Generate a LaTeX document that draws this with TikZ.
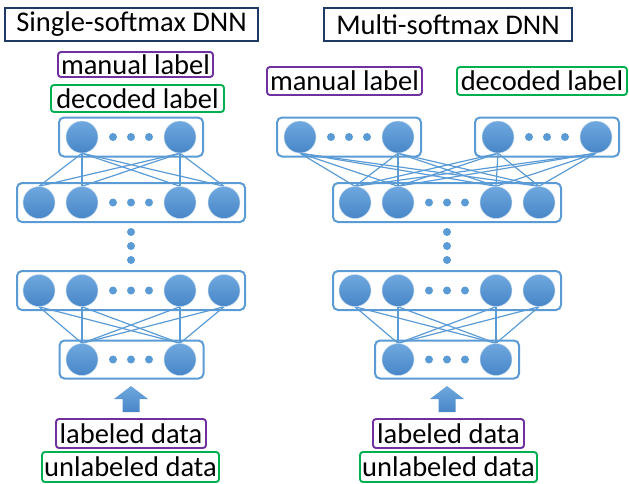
\documentclass[tikz,border=0pt]{standalone}
\usepackage{fontspec}
\setmainfont{Carlito}
\usepackage{tikz}
\usetikzlibrary{backgrounds}
\definecolor{nnblue}{HTML}{5B9BD5}
\definecolor{nnlight}{HTML}{6FA8DE}
\definecolor{nndark}{HTML}{4886C8}
\definecolor{manpurple}{HTML}{7030A0}
\definecolor{decgreen}{HTML}{00B050}
\definecolor{titlenavy}{HTML}{1F3864}
\tikzset{
	unit/.style={circle,inner sep=0pt,minimum size=32pt,top color=nnlight,bottom color=nndark,draw=white!65!nnblue,line width=0.5pt},
	pip/.style={circle,inner sep=0pt,minimum size=8pt,fill=nnblue},
	layer/.style 2 args={draw=nnblue,line width=2pt,rounded corners=5pt,minimum width=#1,minimum height=#2,inner sep=0pt},
	tag/.style 2 args={draw=#1,line width=1.9pt,rounded corners=3pt,inner sep=0pt,minimum width=#2,font=\fontsize{28.5}{30}\selectfont},
	link/.style={draw=nnblue,line width=1.2pt},
	bluearrow/.style={top color=nnlight,bottom color=nndark}
}

\begin{document}
\begin{tikzpicture}[x=1pt,y=-1pt]
	\useasboundingbox (0,0) rectangle (629,483);

	% single-softmax
	\node [tag={titlenavy}{253pt},line width=2.6pt,rounded corners=0pt,minimum height=33pt] (Stitle) at (131.5,24.5) {Single-softmax DNN};
	\node [tag={manpurple}{155pt},minimum height=25pt] (Sman) at (135.5,64.5) {manual label};
	\node [tag={decgreen}{173pt},minimum height=27pt] (Sdec) at (137.5,98.5) {decoded label};

	\node [layer={144pt}{39pt}] (Soutbox) at (131,137) {};
	\node [unit] (So1) at (82,137) {};
	\node [unit] (So2) at (180,137) {};
	\foreach \x in {113,131,149} \node [pip] (Sop\x) at (\x,137) {};

	\node [layer={228pt}{39pt}] (Shabox) at (131,202.5) {};
	\node [unit] (Sa1) at (39,202.5) {};
	\node [unit] (Sa2) at (82,202.5) {};
	\node [unit] (Sa3) at (180,202.5) {};
	\node [unit] (Sa4) at (224,202.5) {};
	\foreach \x in {113,131,149} \node [pip] (Sap\x) at (\x,202.5) {};

	\foreach \y in {232,246,260} \node [pip] (Svp\y) at (131,\y) {};

	\node [layer={228pt}{39pt}] (Shbbox) at (131,290.5) {};
	\node [unit] (Sb1) at (39,290.5) {};
	\node [unit] (Sb2) at (82,290.5) {};
	\node [unit] (Sb3) at (180,290.5) {};
	\node [unit] (Sb4) at (224,290.5) {};
	\foreach \x in {113,131,149} \node [pip] (Sbp\x) at (\x,290.5) {};

	\node [layer={144pt}{38pt}] (Sinbox) at (131.5,359.5) {};
	\node [unit] (Si1) at (82,359.5) {};
	\node [unit] (Si2) at (180,359.5) {};
	\foreach \x in {113,131,149} \node [pip] (Sip\x) at (\x,359.5) {};

	\shade [bluearrow,shift={(131,386)}] (0,0) -- (17,13) -- (8.5,13) -- (8.5,26) -- (-8.5,26) -- (-8.5,13) -- (-17,13) -- cycle;

	\node [tag={manpurple}{150pt},minimum height=29pt] (Slab) at (131,433.5) {labeled data};
	\node [tag={decgreen}{177pt},minimum height=30pt] (Sunl) at (130.5,467) {unlabeled data};

	% multi-softmax
	\node [tag={titlenavy}{248pt},line width=2.6pt,rounded corners=0pt,minimum height=33pt] (Mtitle) at (448,24.5) {Multi-softmax DNN};
	\node [tag={manpurple}{155pt},minimum height=28pt] (Mman) at (344.5,81) {manual label};
	\node [tag={decgreen}{170pt},minimum height=28pt] (Mdec) at (542,81) {decoded label};

	\node [layer={144pt}{39pt}] (Moutbox) at (349,137) {};
	\node [unit] (Mo1) at (300,137) {};
	\node [unit] (Mo2) at (398,137) {};
	\foreach \x in {331,349,367} \node [pip] (Mop\x) at (\x,137) {};

	\node [layer={144pt}{39pt}] (Mdbox) at (547,137) {};
	\node [unit] (Md1) at (498,137) {};
	\node [unit] (Md2) at (596,137) {};
	\foreach \x in {529,547,565} \node [pip] (Mdp\x) at (\x,137) {};

	\node [layer={228pt}{39pt}] (Mhabox) at (447,202.5) {};
	\node [unit] (Ma1) at (355,202.5) {};
	\node [unit] (Ma2) at (398,202.5) {};
	\node [unit] (Ma3) at (496,202.5) {};
	\node [unit] (Ma4) at (539,202.5) {};
	\foreach \x in {429,447,465} \node [pip] (Map\x) at (\x,202.5) {};

	\foreach \y in {232,246,260} \node [pip] (Mvp\y) at (447,\y) {};

	\node [layer={228pt}{39pt}] (Mhbbox) at (447,290.5) {};
	\node [unit] (Mb1) at (355,290.5) {};
	\node [unit] (Mb2) at (398,290.5) {};
	\node [unit] (Mb3) at (496,290.5) {};
	\node [unit] (Mb4) at (539,290.5) {};
	\foreach \x in {429,447,465} \node [pip] (Mbp\x) at (\x,290.5) {};

	\node [layer={144pt}{38pt}] (Minbox) at (447,359.5) {};
	\node [unit] (Mi1) at (398,359.5) {};
	\node [unit] (Mi2) at (496,359.5) {};
	\foreach \x in {429,447,465} \node [pip] (Mip\x) at (\x,359.5) {};

	\shade [bluearrow,shift={(447,386)}] (0,0) -- (17,13) -- (8.5,13) -- (8.5,26) -- (-8.5,26) -- (-8.5,13) -- (-17,13) -- cycle;

	\node [tag={manpurple}{151pt},minimum height=29pt] (Mlab) at (448.5,433.5) {labeled data};
	\node [tag={decgreen}{177pt},minimum height=30pt] (Munl) at (448.5,467) {unlabeled data};

	% weights
	\begin{pgfonlayer}{background}
		\foreach \a in {So1,So2} \foreach \b in {Sa1,Sa2,Sa3,Sa4} \draw [link] (\a.south) -- (\b.north);
		\foreach \a in {Sb1,Sb2,Sb3,Sb4} \foreach \b in {Si1,Si2} \draw [link] (\a.south) -- (\b.north);
		\foreach \a in {Mo1,Mo2,Md1,Md2} \foreach \b in {Ma1,Ma2,Ma3,Ma4} \draw [link] (\a.south) -- (\b.north);
		\foreach \a in {Mb1,Mb2,Mb3,Mb4} \foreach \b in {Mi1,Mi2} \draw [link] (\a.south) -- (\b.north);
	\end{pgfonlayer}
\end{tikzpicture}
\end{document}
